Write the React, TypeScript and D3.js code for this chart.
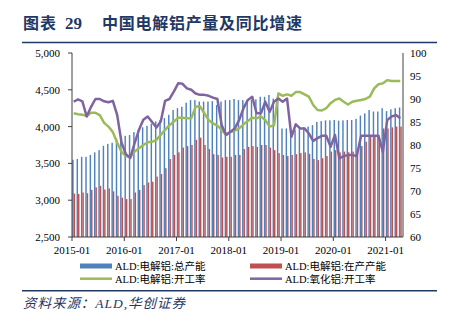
import React, { useEffect } from 'react';
import * as d3 from 'd3';

// ALD: 电解铝 总产能 (万吨, left axis)
const totalCapacity = [
  3550, 3560, 3590, 3590, 3615, 3650, 3680, 3740, 3765, 3780, 3840, 3870,
  3875, 3885, 3925, 3955, 3990, 4010, 4040, 4070, 4090, 4115, 4160, 4225,
  4250, 4270, 4325, 4360, 4360, 4340, 4340, 4340, 4345, 4295, 4340, 4360,
  4360, 4375, 4360, 4360, 4360, 4365, 4370, 4405, 4405, 4430, 4380, 4380,
  3975, 3975, 3955, 3955, 3975, 3990, 4000, 4020, 4065, 4075, 4085, 4085,
  4090, 4080, 4085, 4090, 4090, 4105, 4150, 4180, 4225, 4205, 4205, 4250,
  4210, 4235, 4250, 4260,
];
// ALD: 电解铝 在产产能 (left axis)
const operatingCapacity = [
  3090, 3085, 3105, 3095, 3140, 3175, 3195, 3145, 3160, 3120, 3060, 3035,
  3015, 3015, 3105, 3140, 3205, 3240, 3250, 3320, 3355, 3435, 3560, 3615,
  3650, 3715, 3735, 3750, 3820, 3850, 3750, 3695, 3625, 3615, 3580, 3590,
  3590, 3615, 3615, 3695, 3725, 3735, 3725, 3750, 3750, 3715, 3680, 3640,
  3615, 3600, 3615, 3625, 3640, 3650, 3630, 3560, 3545, 3570, 3600, 3660,
  3680, 3650, 3660, 3650, 3660, 3680, 3735, 3795, 3865, 3865, 3865, 3975,
  3975, 3990, 4000, 4000,
];
// ALD: 电解铝 开工率 (%, right axis)
const aluminumRate = [
  86.9, 86.7, 86.6, 86.3, 87.0, 87.0, 86.5, 84.8, 84.0, 82.8, 80.5, 78.5,
  77.6, 77.4, 78.6, 79.3, 80.0, 80.6, 80.7, 81.1, 82.2, 83.3, 84.3, 85.1,
  85.9, 85.9, 85.8, 85.8, 88.3, 88.4, 86.9, 85.4, 84.7, 84.2, 83.3, 82.2,
  82.8, 83.1, 83.6, 84.5, 85.2, 85.9, 85.8, 86.2, 85.4, 84.0, 84.3, 91.2,
  90.7, 91.0, 90.7, 91.5, 91.5, 91.0, 90.5, 88.7, 87.6, 87.5, 88.0, 89.1,
  89.8, 90.1, 89.4, 88.8, 89.4, 89.6, 89.8, 90.0, 90.5, 92.3, 93.2, 93.4,
  94.1, 93.9, 93.9, 93.9,
];
// ALD: 氧化铝 开工率 (%, right axis)
const aluminaRate = [
  89.4, 89.9, 89.5, 86.2, 88.3, 90.0, 90.0, 89.5, 89.3, 89.6, 86.5, 80.5,
  78.0, 77.2, 80.4, 83.3, 85.5, 86.2, 85.0, 83.8, 85.1, 89.6, 90.0, 91.6,
  93.4, 93.3, 92.3, 92.0, 91.2, 90.9, 90.9, 90.7, 90.3, 90.0, 84.3, 82.2,
  82.9, 83.6, 85.4, 88.0, 89.8, 90.5, 86.9, 86.9, 89.4, 87.2, 89.4, 90.1,
  89.4, 90.1, 81.8, 84.5, 83.6, 83.6, 82.5, 80.9, 81.5, 82.0, 82.0, 79.6,
  82.2, 77.1, 77.6, 77.8, 77.8, 77.6, 82.0, 82.0, 82.0, 82.0, 82.0, 78.5,
  85.4, 86.2, 86.5, 85.8,
];

const months = totalCapacity.map(
  (_, i) => `${2015 + Math.floor(i / 12)}-${String((i % 12) + 1).padStart(2, '0')}`
);
const xTickLabels = ['2015-01', '2016-01', '2017-01', '2018-01', '2019-01', '2020-01', '2021-01'];
const leftTicks = [2500, 3000, 3500, 4000, 4500, 5000];
const rightTicks = [60, 65, 70, 75, 80, 85, 90, 95, 100];

const legendLabels = ['ALD:电解铝:总产能', 'ALD:电解铝:在产产能', 'ALD:电解铝:开工率', 'ALD:氧化铝:开工率'];
const colors = { blue: '#4F81BD', red: '#C0504D', green: '#9BBB59', purple: '#8064A2' };

const serif = "'Liberation Serif', 'Noto Sans CJK SC', serif";
const navy = '#1F3864';

export default function App() {
  useEffect(() => {
    document.body.style.margin = '0';
  }, []);

  const W = 450;
  const H = 321;
  const plot = { left: 72, right: 403, top: 53, bottom: 237 };

  const x = d3.scaleBand<string>().domain(months).range([plot.left, plot.right]).padding(0);
  const yL = d3.scaleLinear().domain([2500, 5000]).range([plot.bottom, plot.top]);
  const yR = d3.scaleLinear().domain([60, 100]).range([plot.bottom, plot.top]);
  const bw = x.bandwidth();
  const cx = (i: number) => (x(months[i]) as number) + bw * 0.38;

  const line = d3
    .line<number>()
    .x((_, i) => cx(i))
    .y((d) => yR(d));

  const fmt = d3.format(',');

  return (
    <svg width={W} height={H} style={{ position: 'absolute', left: 0, top: 0, background: '#fff' }}>
      <rect x={0} y={0} width={W} height={H} fill="#fff" />
      {/* Title */}
      <text x={23} y={29} fontFamily={serif} fontWeight="bold" fontSize={16} fill={navy} letterSpacing={1}>
        图表
      </text>
      <text x={65} y={29} fontFamily={serif} fontWeight="bold" fontSize={17} fill={navy}>
        29
      </text>
      <text
        x={102}
        y={29}
        fontFamily={serif}
        fontWeight="bold"
        fontSize={16}
        fill={navy}
        textLength={200}
        lengthAdjust="spacing"
      >
        中国电解铝产量及同比增速
      </text>
      <line x1={22} x2={437} y1={42.5} y2={42.5} stroke={navy} strokeWidth={1.5} />

      {/* Bars */}
      <g>
        {totalCapacity.map((v, i) => (
          <rect
            key={'b' + i}
            x={(x(months[i]) as number) + bw * 0.05}
            y={yL(v)}
            width={bw * 0.33}
            height={plot.bottom - yL(v)}
            fill={colors.blue}
          />
        ))}
        {operatingCapacity.map((v, i) => (
          <rect
            key={'r' + i}
            x={(x(months[i]) as number) + bw * 0.38}
            y={yL(v)}
            width={bw * 0.33}
            height={plot.bottom - yL(v)}
            fill={colors.red}
          />
        ))}
      </g>

      {/* Lines */}
      <path d={line(aluminumRate) || ''} fill="none" stroke={colors.green} strokeWidth={2.5} strokeLinejoin="round" />
      <path d={line(aluminaRate) || ''} fill="none" stroke={colors.purple} strokeWidth={2.5} strokeLinejoin="round" />

      {/* Left axis */}
      <line x1={plot.left} x2={plot.left} y1={plot.top} y2={plot.bottom} stroke="#404040" strokeWidth={1} />
      {leftTicks.map((t) => (
        <g key={'lt' + t}>
          <line x1={plot.left - 4} x2={plot.left} y1={yL(t)} y2={yL(t)} stroke="#404040" strokeWidth={1} />
          <text x={60} y={yL(t) + 4} textAnchor="end" fontFamily={serif} fontSize={11} fill="#000">
            {fmt(t)}
          </text>
        </g>
      ))}

      {/* Right axis */}
      <line x1={plot.right} x2={plot.right} y1={plot.top} y2={plot.bottom} stroke="#404040" strokeWidth={1} />
      {rightTicks.map((t) => (
        <text key={'rt' + t} x={410} y={yR(t) + 4} textAnchor="start" fontFamily={serif} fontSize={11} fill="#000">
          {t}
        </text>
      ))}

      {/* X axis */}
      <line x1={plot.left} x2={plot.right} y1={plot.bottom} y2={plot.bottom} stroke="#404040" strokeWidth={1} />
      {xTickLabels.map((lab) => {
        const px = x(lab) as number;
        return (
          <g key={'xt' + lab}>
            <line x1={px} x2={px} y1={plot.bottom} y2={plot.bottom + 4} stroke="#404040" strokeWidth={1} />
            <text x={px} y={plot.bottom + 17} textAnchor="middle" fontFamily={serif} fontSize={11} fill="#000">
              {lab}
            </text>
          </g>
        );
      })}

      {/* Legend */}
      <rect x={80} y={263.5} width={32} height={5} fill={colors.blue} />
      <text x={115} y={270} fontFamily={serif} fontSize={10.5} fill="#000">
        {legendLabels[0]}
      </text>
      <rect x={250} y={263.5} width={32} height={5} fill={colors.red} />
      <text x={285} y={270} fontFamily={serif} fontSize={10.5} fill="#000">
        {legendLabels[1]}
      </text>
      <line x1={80} x2={112} y1={278.7} y2={278.7} stroke={colors.green} strokeWidth={2.5} />
      <text x={115} y={282.5} fontFamily={serif} fontSize={10.5} fill="#000">
        {legendLabels[2]}
      </text>
      <line x1={250} x2={282} y1={278.7} y2={278.7} stroke={colors.purple} strokeWidth={2.5} />
      <text x={285} y={282.5} fontFamily={serif} fontSize={10.5} fill="#000">
        {legendLabels[3]}
      </text>

      {/* Footer */}
      <line x1={22} x2={437} y1={290.7} y2={290.7} stroke={navy} strokeWidth={1.5} />
      <text
        x={23}
        y={308}
        fontFamily={serif}
        fontStyle="italic"
        fontSize={13.5}
        fill={navy}
        textLength={162}
        lengthAdjust="spacing"
      >
        资料来源：ALD,华创证券
      </text>
    </svg>
  );
}
